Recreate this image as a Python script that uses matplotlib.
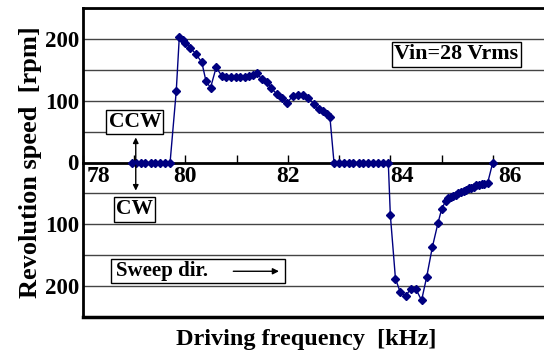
import matplotlib
matplotlib.use("Agg")
import matplotlib.pyplot as plt
from matplotlib.patches import Rectangle

# data
freq = [78.95, 79.04, 79.13, 79.22, 79.32, 79.41, 79.5, 79.6, 79.7,
        79.82, 79.88, 79.95, 80.0, 80.09, 80.2, 80.32, 80.4, 80.49, 80.6,
        80.71, 80.8, 80.89, 80.98, 81.07, 81.16, 81.25, 81.32, 81.39,
        81.49, 81.59, 81.68, 81.78, 81.88, 81.99, 82.1, 82.2, 82.3, 82.4,
        82.5, 82.6, 82.68, 82.76, 82.82,
        82.9, 83.0, 83.09, 83.19, 83.28, 83.38, 83.47, 83.57, 83.66, 83.76,
        83.86, 83.96,
        84.0, 84.1, 84.19, 84.3, 84.4, 84.5, 84.61, 84.71, 84.82, 84.93,
        85.0, 85.08, 85.13, 85.18, 85.23, 85.28, 85.33, 85.38, 85.43, 85.48,
        85.53, 85.58, 85.63, 85.68, 85.73, 85.78, 85.83, 85.9, 86.0]
speed = [0, 0, 0, 0, 0, 0, 0, 0, 0,
         115, 203, 198, 194, 186, 176, 162, 132, 121, 154,
         140, 138, 138, 139, 139, 139, 140, 141, 145,
         135, 131, 120, 111, 104, 97, 108, 110, 109, 105,
         95, 86, 84, 79, 74,
         0, 0, 0, 0, 0, 0, 0, 0, 0, 0,
         0, 0,
         -85, -188, -209, -216, -204, -205, -223, -185, -137, -98,
         -76, -62, -58, -56, -54, -52, -50, -48, -46, -44,
         -42, -41, -39, -37, -36, -35, -34, -33, 0]

ytick_vals = [-200, -100, 0, 100, 200]
ytick_labels = ["200", "100", "0", "100", "200"]
xlabel_vals = [78, 80, 82, 84, 86]
xlabel_text = ["78", "80", "82", "84", "86"]

serif = "Liberation Serif"

fig = plt.figure(figsize=(5.44, 3.53), dpi=100)
ax = fig.add_axes([83 / 544, 36 / 353, 461 / 544, 309 / 353])

ax.set_xlim(78, 87)
ax.set_ylim(-250, 250)

# grid every 50 rpm
for g in range(-250, 251, 50):
    if g != 0:
        ax.axhline(g, color="#444444", lw=1.0, zorder=1)

ax.plot(freq, speed, color="#000080", lw=1.0, marker="D", ms=4.3, zorder=3)

# spines
ax.spines["right"].set_visible(False)
ax.spines["top"].set_linewidth(2)
ax.spines["left"].set_linewidth(2)
ax.spines["bottom"].set_position(("data", 0))
ax.spines["bottom"].set_linewidth(2)
ax.plot([0, 1], [0, 0], transform=ax.transAxes, color="black", lw=2.5,
        clip_on=False, zorder=4)

ax.set_yticks(ytick_vals)
ax.set_yticklabels(ytick_labels, fontfamily=serif, fontweight="bold", fontsize=16.5)
ax.tick_params(axis="y", length=0, pad=3)

ax.set_xticks(range(78, 87))
ax.set_xticklabels([])
ax.tick_params(axis="x", direction="in", length=6, width=1)

xoff = {78: 0.3, 80: 0.0, 82: 0.0, 84: 0.22, 86: 0.33}
for v, t in zip(xlabel_vals, xlabel_text):
    ax.text(v + xoff[v], -6, t, ha="center", va="top", fontfamily=serif,
            fontweight="bold", fontsize=17, zorder=5)

ax.set_ylabel("Revolution speed  [rpm]", fontfamily=serif, fontweight="bold",
              fontsize=19, labelpad=2)
fig.text(0.562, 0.038, "Driving frequency  [kHz]", ha="center", va="center",
         fontfamily=serif, fontweight="bold", fontsize=17.5)

box = dict(boxstyle="square,pad=0.1", fc="white", ec="black", lw=1)

ax.text(84.08, 175, "Vin=28 Vrms", fontfamily=serif, fontweight="bold",
        fontsize=15.8, va="center", ha="left", bbox=box, zorder=5)
ax.text(78.5, 66, "CCW", fontfamily=serif, fontweight="bold",
        fontsize=15.5, va="center", ha="left", bbox=box, zorder=5)
ax.text(78.64, -76, "CW", fontfamily=serif, fontweight="bold",
        fontsize=15.5, va="center", ha="left", bbox=box, zorder=5)
ax.annotate("", xy=(79.03, 45), xytext=(79.03, 0),
            arrowprops=dict(arrowstyle="-|>", color="black", lw=1, mutation_scale=8))
ax.annotate("", xy=(79.03, -50), xytext=(79.03, 0),
            arrowprops=dict(arrowstyle="-|>", color="black", lw=1, mutation_scale=8))

# sweep direction box
ax.add_patch(Rectangle((78.55, -195), 3.4, 39, fc="white", ec="black", lw=1,
                       zorder=5))
ax.text(78.64, -176, "Sweep dir.", fontfamily=serif, fontweight="bold",
        fontsize=15, va="center", ha="left", zorder=6)
ax.annotate("", xy=(81.88, -176), xytext=(80.88, -176),
            arrowprops=dict(arrowstyle="-|>", color="black", lw=1, mutation_scale=9),
            zorder=6)

fig.savefig("out.png", dpi=100)
